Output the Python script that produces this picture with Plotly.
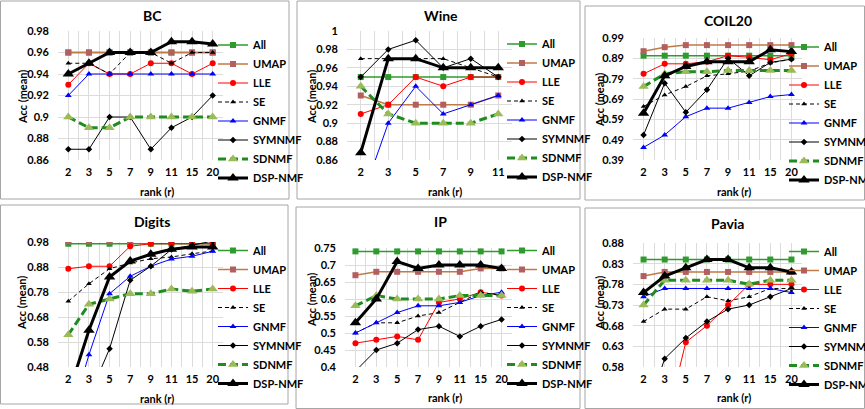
import plotly.graph_objects as go

W, H = 865, 409
FONT = "Lato, Liberation Sans, sans-serif"

METHODS = ["All", "UMAP", "LLE", "SE", "GNMF", "SYMNMF", "SDNMF", "DSP-NMF"]

# ---------------- data ----------------
RANKS_8 = ["2", "3", "5", "7", "9", "11", "15", "20"]
RANKS_6 = ["2", "3", "5", "7", "9", "11"]

BC_ALL = [0.96, 0.96, 0.96, 0.96, 0.96, 0.96, 0.96, 0.96]
BC_UMAP = [0.96, 0.96, 0.96, 0.96, 0.96, 0.96, 0.96, 0.96]
BC_LLE = [0.93, 0.95, 0.94, 0.94, 0.95, 0.95, 0.94, 0.95]
BC_SE = [0.95, 0.95, 0.94, 0.96, 0.96, 0.95, 0.96, 0.96]
BC_GNMF = [0.92, 0.94, 0.94, 0.94, 0.94, 0.94, 0.94, 0.94]
BC_SYMNMF = [0.87, 0.87, 0.90, 0.90, 0.87, 0.89, 0.90, 0.92]
BC_SDNMF = [0.90, 0.89, 0.89, 0.90, 0.90, 0.90, 0.90, 0.90]
BC_DSPNMF = [0.94, 0.95, 0.96, 0.96, 0.96, 0.97, 0.97, 0.968]

WINE_ALL = [0.95, 0.95, 0.95, 0.95, 0.95, 0.95]
WINE_UMAP = [0.93, 0.92, 0.92, 0.92, 0.92, 0.93]
WINE_LLE = [0.91, 0.92, 0.95, 0.94, 0.95, 0.95]
WINE_SE = [0.97, 0.97, 0.97, 0.97, 0.96, 0.95]
WINE_GNMF = [0.815, 0.90, 0.94, 0.91, 0.92, 0.93]
WINE_SYMNMF = [0.95, 0.98, 0.99, 0.96, 0.97, 0.95]
WINE_SDNMF = [0.94, 0.91, 0.90, 0.90, 0.90, 0.91]
WINE_DSPNMF = [0.868, 0.97, 0.97, 0.96, 0.96, 0.96]

COIL_ALL = [0.903, 0.903, 0.903, 0.903, 0.903, 0.903, 0.903, 0.903]
COIL_UMAP = [0.925, 0.945, 0.955, 0.955, 0.955, 0.955, 0.955, 0.955]
COIL_LLE = [0.814, 0.863, 0.863, 0.873, 0.903, 0.895, 0.883, 0.913]
COIL_SE = [0.653, 0.71, 0.751, 0.804, 0.814, 0.827, 0.867, 0.886]
COIL_GNMF = [0.452, 0.513, 0.603, 0.645, 0.645, 0.673, 0.702, 0.712]
COIL_SYMNMF = [0.513, 0.768, 0.625, 0.735, 0.891, 0.804, 0.87, 0.886]
COIL_SDNMF = [0.751, 0.814, 0.824, 0.824, 0.83, 0.83, 0.83, 0.83]
COIL_DSPNMF = [0.62, 0.804, 0.85, 0.873, 0.873, 0.873, 0.932, 0.923]

DIG_ALL = [0.973, 0.973, 0.973, 0.973, 0.973, 0.973, 0.973, 0.973]
DIG_UMAP = [0.983, 0.983, 0.983, 0.983, 0.993, 0.983, 0.983, 0.983]
DIG_LLE = [0.873, 0.883, 0.883, 0.963, 0.973, 0.973, 0.973, 0.973]
DIG_SE = [0.743, 0.813, 0.873, 0.896, 0.913, 0.92, 0.933, 0.944]
DIG_GNMF = [0.25, 0.529, 0.773, 0.843, 0.883, 0.912, 0.923, 0.943]
DIG_SYMNMF = [0.30, 0.36, 0.553, 0.827, 0.883, 0.95, 0.967, 0.984]
DIG_SDNMF = [0.609, 0.731, 0.752, 0.773, 0.773, 0.792, 0.783, 0.792]
DIG_DSPNMF = [0.37, 0.627, 0.84, 0.904, 0.931, 0.951, 0.96, 0.96]

IP_ALL = [0.74, 0.74, 0.74, 0.74, 0.74, 0.74, 0.74, 0.74]
IP_UMAP = [0.67, 0.68, 0.68, 0.68, 0.68, 0.68, 0.69, 0.69]
IP_LLE = [0.47, 0.48, 0.49, 0.48, 0.59, 0.60, 0.62, 0.61]
IP_SE = [0.50, 0.53, 0.53, 0.55, 0.56, 0.59, 0.62, 0.61]
IP_GNMF = [0.50, 0.53, 0.56, 0.58, 0.58, 0.59, 0.61, 0.62]
IP_SYMNMF = [0.388, 0.45, 0.47, 0.51, 0.52, 0.49, 0.52, 0.54]
IP_SDNMF = [0.58, 0.61, 0.60, 0.60, 0.60, 0.61, 0.61, 0.61]
IP_DSPNMF = [0.53, 0.60, 0.71, 0.69, 0.70, 0.70, 0.70, 0.69]

PAV_ALL = [0.84, 0.84, 0.84, 0.84, 0.84, 0.84, 0.84, 0.84]
PAV_UMAP = [0.80, 0.81, 0.81, 0.81, 0.81, 0.81, 0.81, 0.81]
PAV_LLE = [0.40, 0.43, 0.64, 0.68, 0.73, 0.78, 0.78, 0.78]
PAV_SE = [0.69, 0.72, 0.72, 0.75, 0.74, 0.75, 0.77, 0.77]
PAV_GNMF = [0.75, 0.77, 0.77, 0.77, 0.77, 0.77, 0.77, 0.76]
PAV_SYMNMF = [0.45, 0.60, 0.65, 0.69, 0.72, 0.73, 0.75, 0.77]
PAV_SDNMF = [0.73, 0.79, 0.79, 0.79, 0.79, 0.78, 0.79, 0.79]
PAV_DSPNMF = [0.76, 0.80, 0.82, 0.84, 0.84, 0.82, 0.82, 0.81]

TITLES = ["BC", "Wine", "COIL20", "Digits", "IP", "Pavia"]
RANKS = [RANKS_8, RANKS_6, RANKS_8, RANKS_8, RANKS_8, RANKS_8]
SERIES = [
    [BC_ALL, BC_UMAP, BC_LLE, BC_SE, BC_GNMF, BC_SYMNMF, BC_SDNMF, BC_DSPNMF],
    [WINE_ALL, WINE_UMAP, WINE_LLE, WINE_SE, WINE_GNMF, WINE_SYMNMF, WINE_SDNMF, WINE_DSPNMF],
    [COIL_ALL, COIL_UMAP, COIL_LLE, COIL_SE, COIL_GNMF, COIL_SYMNMF, COIL_SDNMF, COIL_DSPNMF],
    [DIG_ALL, DIG_UMAP, DIG_LLE, DIG_SE, DIG_GNMF, DIG_SYMNMF, DIG_SDNMF, DIG_DSPNMF],
    [IP_ALL, IP_UMAP, IP_LLE, IP_SE, IP_GNMF, IP_SYMNMF, IP_SDNMF, IP_DSPNMF],
    [PAV_ALL, PAV_UMAP, PAV_LLE, PAV_SE, PAV_GNMF, PAV_SYMNMF, PAV_SDNMF, PAV_DSPNMF],
]
Y_RANGES = [(0.86, 0.98), (0.86, 1.0), (0.39, 0.99), (0.48, 0.98), (0.40, 0.75), (0.58, 0.88)]
Y_DTICKS = [0.02, 0.02, 0.1, 0.1, 0.05, 0.05]

# ---------------- styles ----------------
STYLES = {
    "All": dict(line=dict(color="#2e9b2e", width=1.5), marker=dict(symbol="square", size=6, color="#2e9b2e")),
    "UMAP": dict(line=dict(color="#c07a45", width=1.5), marker=dict(symbol="square", size=6, color="#b35f5f")),
    "LLE": dict(line=dict(color="#ff0000", width=1), marker=dict(symbol="circle", size=6, color="#ff0000")),
    "SE": dict(line=dict(color="#000000", width=1, dash="4px,3px"), marker=dict(symbol="triangle-up", size=5, color="#000000")),
    "GNMF": dict(line=dict(color="#0000ff", width=1), marker=dict(symbol="triangle-up", size=6, color="#0000ff")),
    "SYMNMF": dict(line=dict(color="#000000", width=1), marker=dict(symbol="diamond", size=5, color="#000000")),
    "SDNMF": dict(line=dict(color="#1f8c1f", width=3, dash="8px,4px"), marker=dict(symbol="triangle-up", size=9, color="#9bbb59")),
    "DSP-NMF": dict(line=dict(color="#000000", width=3), marker=dict(symbol="triangle-up", size=10, color="#000000")),
}

# ---------------- layout geometry (pixels) ----------------
PLOT_BOXES = [  # x0, x1, y0(top), y1(bottom)
    (58, 223, 31, 160), (347, 512, 31, 160), (633, 802, 38, 160),
    (58, 223, 242, 367), (345, 512, 248, 367), (633, 802, 243, 367),
]
PANELS = [(0.5, 289, 1, 199), (297, 580, 1, 199), (585, 864.5, 6, 200),
          (0.5, 288, 205, 404), (296, 580, 207, 408.5), (585, 864.5, 208, 408.5)]
TITLE_POS = [(152, 15), (441, 15), (728, 21), (152, 221), (440, 222), (727, 223)]
YT_POS = [(22, 97), (311, 97), (599, 100), (21, 303), (311, 300), (599, 303)]
XT_POS = [(157, 192), (445, 191), (734, 191), (157, 398), (445, 397), (734, 397)]
LEG_POS = [(213, 30.5), (502, 29.5), (784, 32.5), (213, 236), (502, 236), (784, 237)]


def px(x):
    return x / W


def py(y):
    return 1 - y / H


fig = go.Figure()
layout = dict(
    width=W, height=H, margin=dict(l=0, r=0, t=0, b=0, pad=0, autoexpand=False),
    paper_bgcolor="white", plot_bgcolor="white",
    font=dict(family=FONT, size=11, color="#000000"),
    shapes=[], annotations=[],
)

for i in range(6):
    n = i + 1
    xa = "x" if n == 1 else f"x{n}"
    ya = "y" if n == 1 else f"y{n}"
    leg = "legend" if n == 1 else f"legend{n}"
    ranks = RANKS[i]
    xs = list(range(len(ranks)))
    for m, vals in zip(METHODS, SERIES[i]):
        st = STYLES[m]
        fig.add_trace(go.Scatter(
            x=xs, y=vals, name=m, mode="lines+markers",
            line=st["line"], marker=st["marker"],
            xaxis=xa, yaxis=ya, legend=leg,
        ))
    x0, x1, y0, y1 = PLOT_BOXES[i]
    layout[f"xaxis{'' if n == 1 else n}"] = dict(
        domain=[px(x0), px(x1)], anchor=ya, range=[-0.5, len(ranks) - 0.5],
        tickmode="array", tickvals=xs, ticktext=ranks,
        showgrid=True, gridcolor="#dcdcdc", gridwidth=1,
        minor=dict(tickmode="linear", tick0=-0.5, dtick=1, showgrid=True, gridcolor="#dcdcdc", gridwidth=1),
        zeroline=False, showline=False, ticks="", fixedrange=True, automargin=False,
        tickfont=dict(family=FONT, size=11, weight="bold"), ticklabelstandoff=4,
    )
    lo, hi = Y_RANGES[i]
    layout[f"yaxis{'' if n == 1 else n}"] = dict(
        domain=[py(y1), py(y0)], anchor=xa, range=[lo, hi],
        tickmode="linear", tick0=lo, dtick=Y_DTICKS[i],
        showgrid=True, gridcolor="#dcdcdc", gridwidth=1,
        zeroline=False, showline=False, ticks="", automargin=False,
        tickfont=dict(family=FONT, size=11, weight="bold"), ticklabelstandoff=8,
    )
    lx, ly = LEG_POS[i]
    layout[leg] = dict(
        x=px(lx), y=py(ly), xanchor="left", yanchor="top",
        bgcolor="rgba(0,0,0,0)", borderwidth=0, itemwidth=30,
        tracegroupgap=0, font=dict(family=FONT, size=11, weight="bold"),
    )
    bx0, bx1, by0, by1 = PANELS[i]
    layout["shapes"].append(dict(
        type="rect", xref="paper", yref="paper",
        x0=px(bx0), x1=px(bx1), y0=py(by1), y1=py(by0),
        line=dict(color="#a6a6a6", width=1), layer="below",
    ))
    tx, ty = TITLE_POS[i]
    layout["annotations"].append(dict(
        text=TITLES[i], x=px(tx), y=py(ty), xref="paper", yref="paper",
        showarrow=False, xanchor="center", yanchor="middle",
        font=dict(family=FONT, size=14, weight="bold"),
    ))
    ax, ay = YT_POS[i]
    layout["annotations"].append(dict(
        text="Acc (mean)", x=px(ax), y=py(ay), xref="paper", yref="paper",
        showarrow=False, xanchor="center", yanchor="middle", textangle=-90,
        font=dict(family=FONT, size=11, weight="bold"),
    ))
    bx, byy = XT_POS[i]
    layout["annotations"].append(dict(
        text="rank (r)", x=px(bx), y=py(byy), xref="paper", yref="paper",
        showarrow=False, xanchor="center", yanchor="middle",
        font=dict(family=FONT, size=11, weight="bold"),
    ))

fig.update_layout(**layout)
fig.write_html(
    "out.html",
    config={"displayModeBar": False},
    post_script="document.body.style.margin='0px';document.body.style.overflow='hidden';",
)
